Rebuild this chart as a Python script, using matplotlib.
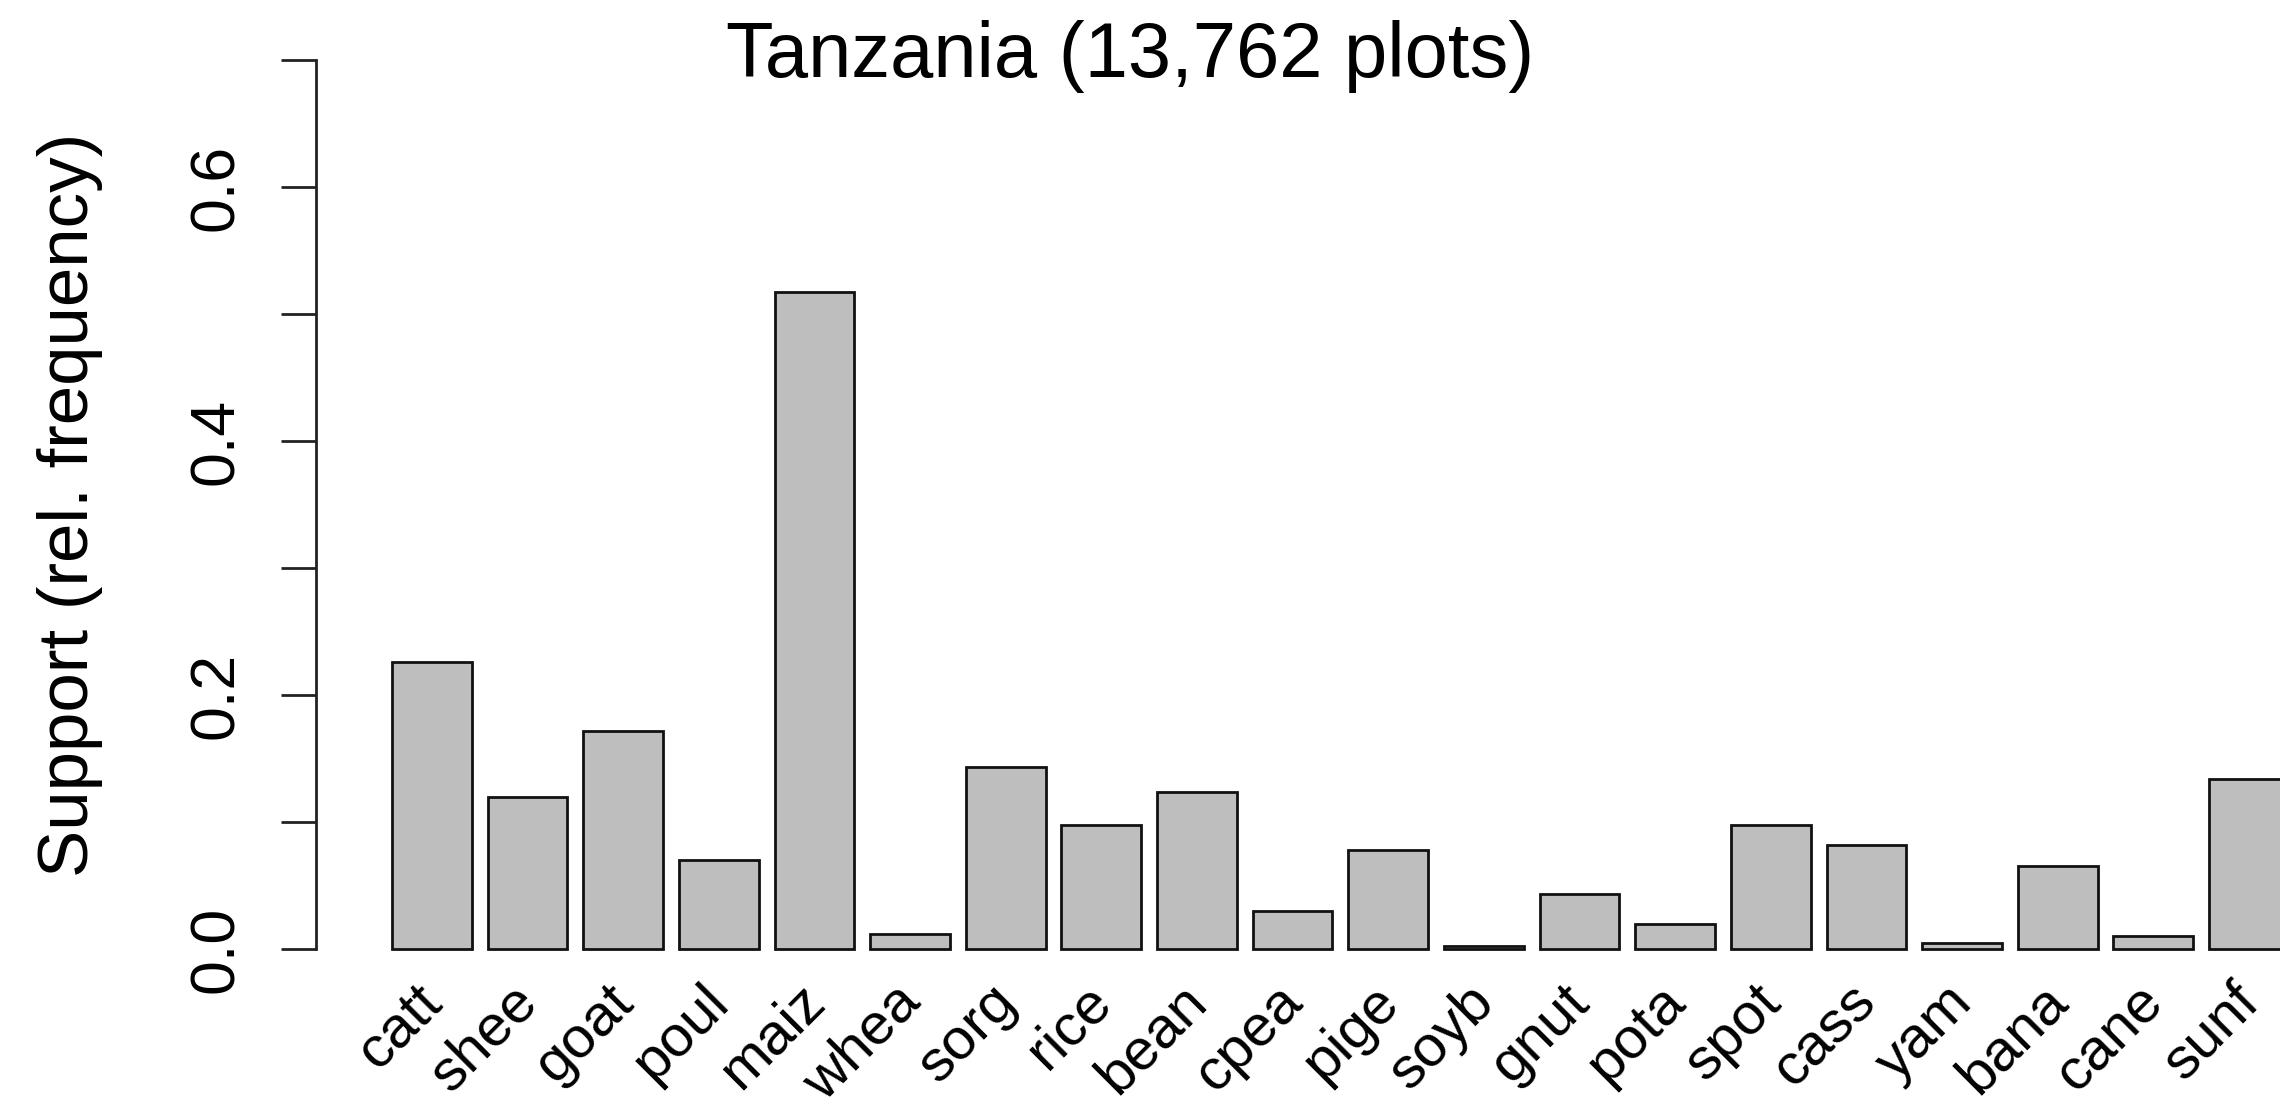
import numpy as np
import matplotlib
matplotlib.use("Agg")
from matplotlib import pyplot as plt

plt.rcParams['font.family'] = ['Liberation Sans', 'DejaVu Sans']

# Relative frequency of each crop / livestock item across plots
items = ['catt', 'shee', 'goat', 'poul', 'maiz', 'whea', 'sorg', 'rice', 'bean', 'cpea',
         'pige', 'soyb', 'gnut', 'pota', 'spot', 'cass', 'yam', 'bana', 'cane', 'sunf']
support = [0.226, 0.120, 0.172, 0.070, 0.517, 0.012, 0.143, 0.098, 0.124, 0.030,
           0.078, 0.002, 0.043, 0.020, 0.098, 0.082, 0.005, 0.065, 0.010, 0.134]

y_ticks = [0.0, 0.1, 0.2, 0.3, 0.4, 0.5, 0.6, 0.7]
y_tick_labels = ['0.0', '', '0.2', '', '0.4', '', '0.6', '']

# barplot-style positions: width 1, space 0.2
centers = 0.7 + 1.2 * np.arange(len(items))

fig = plt.figure(figsize=(22.8, 11.09), dpi=100)
ax = fig.add_axes([0.1384, 0.12137, 0.8616, 0.84743])

ax.bar(centers, support, width=1.0, color='#bebebe', edgecolor='#111111', linewidth=2.0)

ax.set_xlim(-0.76, 23.89)
ax.set_ylim(-0.02, 0.72)

for side in ['top', 'right', 'bottom']:
    ax.spines[side].set_visible(False)
ax.spines['left'].set_bounds(0, 0.7)
ax.spines['left'].set_linewidth(2.0)
ax.spines['left'].set_color('#222222')

ax.set_xticks([])
ax.set_yticks(y_ticks)
ax.set_yticklabels(y_tick_labels)
ax.tick_params(axis='y', length=25, width=2.0, color='#222222', pad=34.5, labelsize=45)
plt.setp(ax.get_yticklabels(), rotation=90, rotation_mode='anchor', ha='center', va='baseline')

# rotated item names under each bar
for x, name in zip(centers, items):
    ax.text(x + 0.02, -0.035, name, rotation=45, rotation_mode='anchor',
            ha='right', va='center', fontsize=42, clip_on=False)

fig.text(88 / 2280, 1 - 505 / 1109, 'Support (rel. frequency)', rotation=90,
         rotation_mode='anchor', ha='center', va='baseline', fontsize=51)
fig.text(1130 / 2280, 1 - 77 / 1109, 'Tanzania (13,762 plots)',
         ha='center', va='baseline', fontsize=56)

fig.savefig('out.png', dpi=100)
